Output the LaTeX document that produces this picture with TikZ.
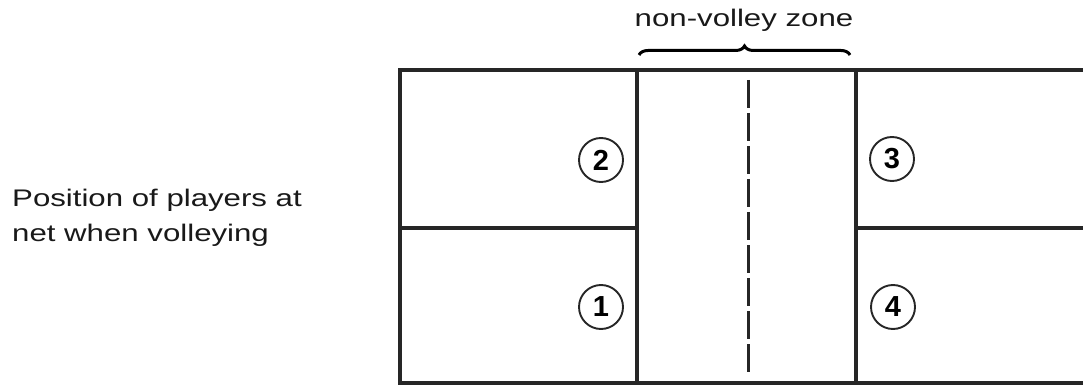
\documentclass[tikz,border=0pt]{standalone}
\usepackage{fontspec}
\setmainfont{Liberation Sans}
\usetikzlibrary{calc, decorations.pathreplacing}
\newcommand\widetext[1]{\scalebox{1.3}[1]{#1}}

\begin{document}
\begin{tikzpicture}[
          x=1pt, y=-1pt,
          court/.style={line width=3.2pt, draw=black!85},
          net/.style={line width=3pt, draw=black!85,
                      dash pattern=on 28pt off 5pt},
          spot/.style={circle, draw=black!85, line width=1.9pt,
                       minimum size=44pt, inner sep=0pt,
                       font=\fontsize{29}{29}\selectfont\bfseries},
          caption/.style={inner sep=0pt, text=black!90,
                          font=\fontsize{24}{35}\selectfont}
        ]
          \useasboundingbox (0,0) rectangle (1083,387);
          % court corners
          \coordinate (tl) at (400,70);
          \coordinate (bl) at (400,383);
          \coordinate (tr) at (1083,70);
          \coordinate (br) at (1083,383);
          \coordinate (kl) at (637,70);
          \coordinate (klb) at (637,383);
          \coordinate (kr) at (856,70);
          \coordinate (krb) at (856,383);
          \coordinate (ml) at (400,228);
          \coordinate (mlk) at (637,228);
          \coordinate (mrk) at (856,228);
          \coordinate (mr) at (1083,228);
          \coordinate (nt) at (748,80);
          \coordinate (nb) at (748,376);
          \coordinate (bs) at (639,55);
          \coordinate (be) at (850,55);
          \draw[court] (tr) -- (tl) -- (bl) -- (br);
          \draw[court] (kl) -- (klb);
          \draw[court] (kr) -- (krb);
          \draw[court] (ml) -- (mlk);
          \draw[court] (mrk) -- (mr);
          \draw[net] (nt) -- (nb);
          \draw[line width=3pt, decorate,
                decoration={brace, amplitude=9pt}] (bs) -- (be);
          \node[caption, anchor=base] (zone) at (744,27)
               {\widetext{non-volley zone}};
          \node[caption, anchor=base west] (info) at (12,207)
               {\widetext{\begin{tabular}[t]{@{}l@{}}Position of players at\\
                net when volleying\end{tabular}}};
          \node[spot] (p1) at (601,307) {1};
          \node[spot] (p2) at (601,160) {2};
          \node[spot] (p3) at (892,159) {3};
          \node[spot] (p4) at (893,307) {4};
        \end{tikzpicture}
\end{document}
